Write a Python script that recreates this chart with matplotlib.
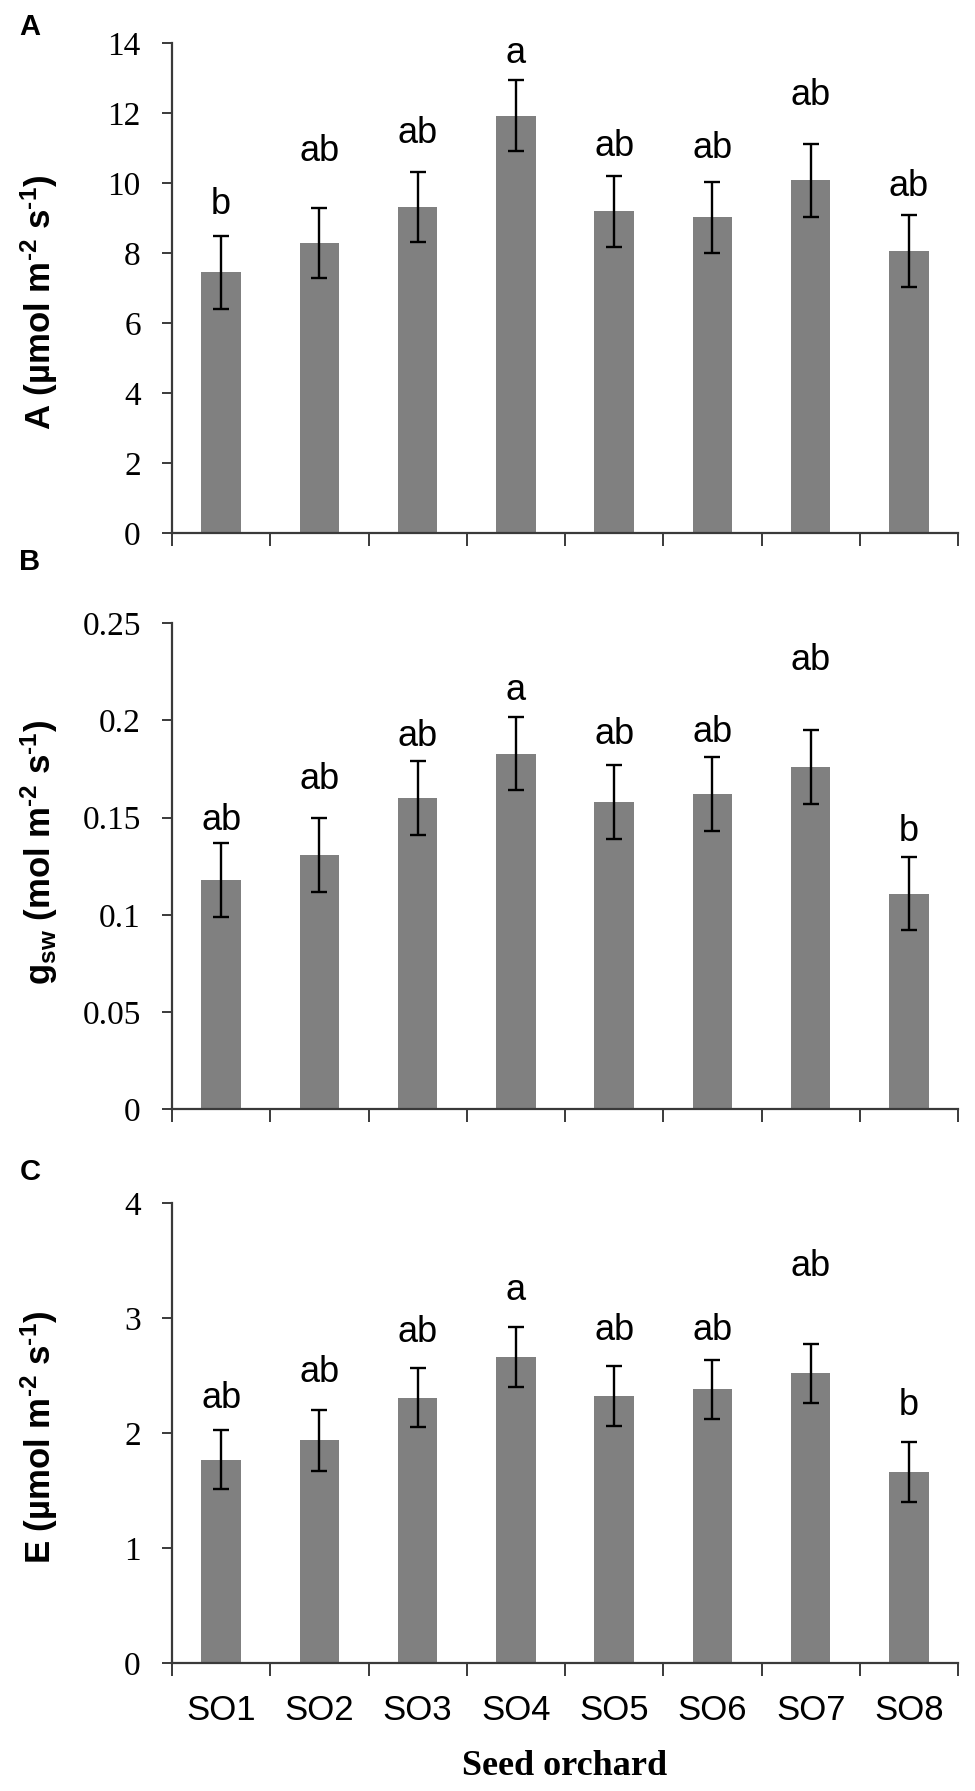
import numpy as np
import matplotlib
matplotlib.use("Agg")
import matplotlib.pyplot as plt

# ---- data ----
orchards = ["SO1", "SO2", "SO3", "SO4", "SO5", "SO6", "SO7", "SO8"]

A_mean = [7.45, 8.30, 9.33, 11.93, 9.20, 9.02, 10.08, 8.05]
A_err = [1.05, 1.00, 1.00, 1.01, 1.02, 1.02, 1.05, 1.03]
A_letters = ["b", "ab", "ab", "a", "ab", "ab", "ab", "ab"]
A_letter_y = [9.4, 10.9, 11.43, 13.7, 11.04, 11.0, 12.5, 9.92]

B_mean = [0.118, 0.131, 0.160, 0.183, 0.158, 0.162, 0.176, 0.111]
B_err = [0.019, 0.019, 0.019, 0.019, 0.019, 0.019, 0.019, 0.019]
B_letters = ["ab", "ab", "ab", "a", "ab", "ab", "ab", "b"]
B_letter_y = [0.1488, 0.1694, 0.1917, 0.2154, 0.193, 0.194, 0.231, 0.1427]

C_mean = [1.77, 1.94, 2.31, 2.66, 2.32, 2.38, 2.52, 1.66]
C_err = [0.26, 0.265, 0.26, 0.26, 0.26, 0.26, 0.26, 0.26]
C_letters = ["ab", "ab", "ab", "a", "ab", "ab", "ab", "b"]
C_letter_y = [2.30, 2.53, 2.88, 3.24, 2.89, 2.89, 3.45, 2.24]

A_ticks = [0, 2, 4, 6, 8, 10, 12, 14]
B_ticks = [0, 0.05, 0.1, 0.15, 0.2, 0.25]
B_ticklabels = ["0", "0.05", "0.1", "0.15", "0.2", "0.25"]
C_ticks = [0, 1, 2, 3, 4]

# ---- style ----
BAR = "#808080"
SPINE = "#3a3a3a"
W, H = 975, 1791

plt.rcParams.update({
    "font.family": "Liberation Sans",
    "mathtext.fontset": "custom",
    "mathtext.rm": "Liberation Sans",
    "mathtext.bf": "Liberation Sans:bold",
    "mathtext.it": "Liberation Sans:italic",
})

fig = plt.figure(figsize=(W / 100, H / 100), dpi=100)

def px_axes(top, bottom, left=172, right=958):
    return fig.add_axes([left / W, 1 - bottom / H, (right - left) / W, (bottom - top) / H])

def draw_panel(ax, mean, err, letters, letter_y, ticks, ticklabels, ymax):
    x = np.arange(len(orchards))
    ax.bar(x, mean, width=0.4, color=BAR, yerr=err,
           error_kw=dict(ecolor="black", elinewidth=1.7, capsize=5.5, capthick=1.7))
    for xi, lab, ly in zip(x, letters, letter_y):
        ax.text(xi, ly, lab, ha="center", va="center", fontsize=26, color="black")
    ax.set_xlim(-0.5, len(orchards) - 0.5)
    ax.set_ylim(0, ymax)
    ax.set_yticks(ticks)
    ax.set_yticklabels(ticklabels, family="Liberation Serif", fontsize=24)
    ax.set_xticks(np.arange(-0.5, len(orchards), 1))
    ax.set_xticklabels([])
    for s in ("top", "right"):
        ax.spines[s].set_visible(False)
    for s in ("left", "bottom"):
        ax.spines[s].set_color(SPINE)
        ax.spines[s].set_linewidth(1.6)
    ax.tick_params(axis="y", direction="out", length=7.5, width=1.4, color=SPINE, pad=15)
    ax.tick_params(axis="x", direction="out", length=9, width=1.4, color=SPINE)

axA = px_axes(43.3, 533)
draw_panel(axA, A_mean, A_err, A_letters, A_letter_y, A_ticks, [str(t) for t in A_ticks], 14)

axB = px_axes(623.3, 1109.3)
draw_panel(axB, B_mean, B_err, B_letters, B_letter_y, B_ticks, B_ticklabels, 0.25)

axC = px_axes(1203.3, 1663)
draw_panel(axC, C_mean, C_err, C_letters, C_letter_y, C_ticks, [str(t) for t in C_ticks], 4)
axC.set_xticks(np.arange(len(orchards)), minor=True)
axC.set_xticklabels(orchards, minor=True, fontsize=25)
axC.tick_params(axis="x", which="minor", length=0, pad=22)
axC.text(0.5, -0.225, "Seed orchard", transform=axC.transAxes, ha="center", va="center",
         family="Liberation Serif", fontweight="bold", fontsize=26)

# panel letters
for lab, y in (("A", 27), ("B", 562), ("C", 1172)):
    fig.text(30 / W, 1 - y / H, lab, ha="center", va="center", fontsize=21, fontweight="bold")

# y labels (short hyphen in the exponents, as in the original)
units = " m$^{\\mathbf{\u20102}}$ s$^{\\mathbf{\u20101}}$)"
ylabels = [
    ("A (µmol" + units, 302),
    ("g$_{\\mathbf{sw}}$ (mol" + units, 852),
    ("E (µmol" + units, 1437),
]
for txt, y in ylabels:
    fig.text(39 / W, 1 - y / H, txt, rotation=90, ha="center", va="center",
             fontsize=25, fontweight="bold")

fig.savefig("out.png", dpi=100, facecolor="white")
